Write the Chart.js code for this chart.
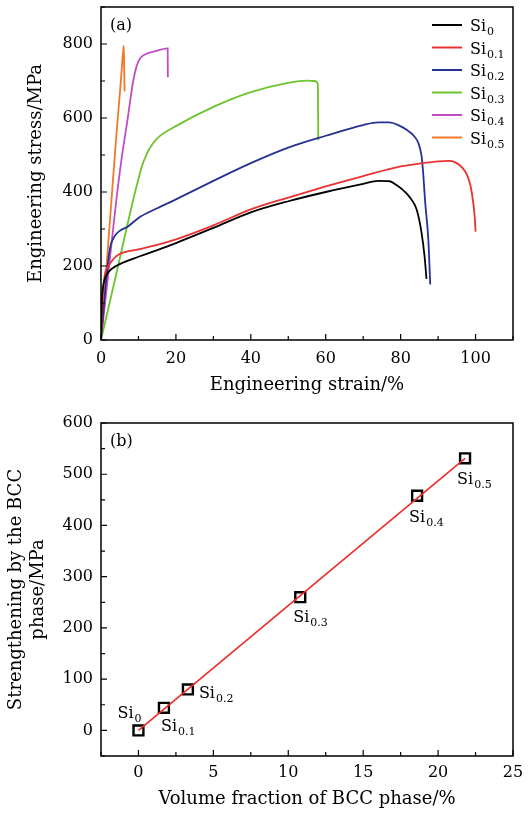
<!DOCTYPE html>
<html>
<head>
<meta charset="utf-8">
<script src="https://cdn.jsdelivr.net/npm/chart.js@4.4.0/dist/chart.umd.min.js"></script>
<style>
  body { margin: 0; background: #fff; }
  canvas { display: block; }
</style>
</head>
<body>
<canvas id="stress-chart" width="528" height="400"></canvas>
<canvas id="bcc-chart" width="528" height="414"></canvas>
<script>
const SERIES_SUBS = ['0', '0.1', '0.2', '0.3', '0.4', '0.5'];
const SERIES_COLORS = ['#000000', '#ea3232', '#27318f', '#6cc42f', '#c24cc2', '#f07a26'];

// (a) engineering stress-strain curves
const si0Strain = [0, 0.2, 0.5, 1, 2, 2.6, 4, 6, 10, 15, 20, 30, 40, 50, 60, 70, 74, 77, 79, 81.5, 83, 84.3, 85.6, 86.4, 86.9];
const si0Stress = [0, 100, 140, 165, 183, 190, 200, 210, 225, 243, 262, 303, 345, 375, 400, 422, 430, 429, 418, 397, 378, 352, 289, 225, 165];
const si01Strain = [0, 0.5, 1, 2, 3, 4.5, 10, 15, 20, 30, 40, 50, 60, 70, 80, 86, 90, 93, 95, 96.5, 97.7, 98.7, 99.4, 99.8, 100];
const si01Stress = [0, 120, 175, 200, 215, 230, 245, 257, 272, 310, 353, 385, 415, 443, 469, 478, 483, 484, 478, 465, 447, 415, 370, 330, 293];
const si02Strain = [0, 1, 2.3, 3.6, 5, 7.2, 10, 15, 20, 30, 40, 50, 60, 70, 74, 77, 79.5, 81.6, 83.5, 84.7, 85.6, 86.1, 86.5, 87.4, 87.9];
const si02Stress = [0, 120, 243, 280, 295, 307, 330, 356, 380, 430, 478, 520, 552, 581, 588, 588, 580, 568, 552, 533, 496, 440, 379, 270, 150];
const si03Strain = [0, 4, 8.6, 10, 11, 12, 13, 15, 20, 30, 40, 50, 55, 57, 57.9, 58];
const si03Stress = [0, 175, 379, 435, 472, 498, 518, 545, 578, 630, 670, 695, 701, 700, 692, 540];
const si04Strain = [0, 2, 4.1, 5.5, 7, 8.6, 9.5, 10.5, 12, 15, 17.8, 17.85];
const si04Stress = [0, 185, 379, 490, 590, 700, 740, 762, 773, 782, 788, 710];
const si05Strain = [0, 1.4, 2.8, 4, 5.3, 5.9, 6.1, 6.2, 6.3];
const si05Stress = [0, 190, 379, 540, 700, 780, 795, 720, 672];

// (b) strengthening by the BCC phase
const bccFraction = [0, 1.7, 3.3, 10.8, 18.6, 21.8];
const bccStrengthening = [0, 44, 80, 260, 458, 531];
const fitFraction = [0, 21.8];
const fitStrengthening = [0, 531];

const FONT = '"DejaVu Serif", serif';
const LABEL_OFFSETS = [[-21, -12], [-3, 23], [11, 9], [-7, 25], [-8, 26], [-8, 26]];

function toPoints(xs, ys) {
  return xs.map((x, i) => ({ x: x, y: ys[i] }));
}

function drawSi(ctx, x, y, sub) {
  ctx.fillStyle = '#000';
  ctx.textAlign = 'left';
  ctx.textBaseline = 'alphabetic';
  ctx.font = '16px ' + FONT;
  ctx.fillText('Si', x, y);
  const w = ctx.measureText('Si').width;
  ctx.font = '11px ' + FONT;
  ctx.fillText(sub, x + w + 1, y + 4);
}

// frame with inward major/minor ticks on left and bottom
const framePlugin = {
  id: 'frame',
  afterDraw(chart, args, opts) {
    const ctx = chart.ctx;
    const { left, top, right, bottom } = chart.chartArea;
    const xs = chart.scales.x;
    const ys = chart.scales.y;
    ctx.save();
    ctx.strokeStyle = '#000';
    ctx.lineWidth = 1.5;
    ctx.strokeRect(left, top, right - left, bottom - top);
    ctx.lineWidth = 1.2;
    ctx.beginPath();
    for (let v = Math.ceil(xs.min / opts.xMinor) * opts.xMinor; v <= xs.max + 1e-9; v += opts.xMinor) {
      const px = xs.getPixelForValue(v);
      const len = Math.abs(v / opts.xMajor - Math.round(v / opts.xMajor)) < 1e-6 ? 6 : 4;
      ctx.moveTo(px, bottom);
      ctx.lineTo(px, bottom - len);
    }
    for (let v = Math.ceil(ys.min / opts.yMinor) * opts.yMinor; v <= ys.max + 1e-9; v += opts.yMinor) {
      const py = ys.getPixelForValue(v);
      const len = Math.abs(v / opts.yMajor - Math.round(v / opts.yMajor)) < 1e-6 ? 6 : 4;
      ctx.moveTo(left, py);
      ctx.lineTo(left + len, py);
    }
    ctx.stroke();
    ctx.fillStyle = '#000';
    ctx.font = '16px ' + FONT;
    ctx.textAlign = 'left';
    ctx.textBaseline = 'middle';
    ctx.fillText(opts.panel, left + 9, top + 19);
    ctx.restore();
  }
};

const legendPlugin = {
  id: 'siLegend',
  afterDraw(chart) {
    const ctx = chart.ctx;
    const { right, top } = chart.chartArea;
    ctx.save();
    chart.data.datasets.forEach((ds, i) => {
      const y = top + 18 + i * 22.5;
      ctx.strokeStyle = ds.borderColor;
      ctx.lineWidth = 2;
      ctx.beginPath();
      ctx.moveTo(right - 81, y);
      ctx.lineTo(right - 51, y);
      ctx.stroke();
      drawSi(ctx, right - 43, y + 6, SERIES_SUBS[i]);
    });
    ctx.restore();
  }
};

const pointLabelPlugin = {
  id: 'pointLabels',
  afterDraw(chart) {
    const ctx = chart.ctx;
    const meta = chart.getDatasetMeta(1);
    ctx.save();
    meta.data.forEach((pt, i) => {
      drawSi(ctx, pt.x + LABEL_OFFSETS[i][0], pt.y + LABEL_OFFSETS[i][1], SERIES_SUBS[i]);
    });
    ctx.restore();
  }
};

function axis(opts) {
  return {
    type: 'linear',
    min: opts.min,
    max: opts.max,
    grid: { display: false, drawTicks: false },
    border: { display: false },
    ticks: { autoSkip: false, maxRotation: 0, padding: opts.padding, color: '#000', font: { family: FONT, size: 16 } },
    title: { display: true, text: opts.title, color: '#000', font: { family: FONT, size: 18 }, padding: opts.titlePadding },
    afterBuildTicks: (scale) => {
      const ticks = [];
      for (let v = Math.ceil(opts.min / opts.step - 1e-9) * opts.step; v <= opts.max + 1e-9; v += opts.step) {
        ticks.push({ value: v });
      }
      scale.ticks = ticks;
    },
    afterFit: (scale) => {
      if (opts.width) scale.width = opts.width;
      if (opts.height) scale.height = opts.height;
      scale.paddingTop = 0;
      scale.paddingBottom = 0;
      scale.paddingLeft = 0;
      scale.paddingRight = 0;
    },
  };
}

const stressSeries = [
  [si0Strain, si0Stress], [si01Strain, si01Stress], [si02Strain, si02Stress],
  [si03Strain, si03Stress], [si04Strain, si04Stress], [si05Strain, si05Stress],
];

new Chart(document.getElementById('stress-chart'), {
  type: 'scatter',
  data: {
    datasets: stressSeries.map((s, i) => ({
      label: 'Si' + SERIES_SUBS[i],
      data: toPoints(s[0], s[1]),
      showLine: true,
      borderColor: SERIES_COLORS[i],
      borderWidth: 1.8,
      pointRadius: 0,
      cubicInterpolationMode: 'monotone',
      order: i,
    })),
  },
  options: {
    responsive: false,
    animation: false,
    layout: { padding: { top: 7, right: 15, left: 0, bottom: 0 } },
    plugins: {
      legend: { display: false },
      tooltip: { enabled: false },
      frame: { xMajor: 20, xMinor: 10, yMajor: 200, yMinor: 100, panel: '(a)' },
    },
    scales: {
      x: axis({ min: 0, max: 110, step: 20, padding: 9, title: 'Engineering strain/%', height: 60, titlePadding: { top: 4, bottom: 4 } }),
      y: axis({ min: 0, max: 900, step: 200, padding: 8, title: 'Engineering stress/MPa', width: 101, titlePadding: { top: 26, bottom: 4 } }),
    },
  },
  plugins: [framePlugin, legendPlugin],
});

new Chart(document.getElementById('bcc-chart'), {
  type: 'scatter',
  data: {
    datasets: [
      {
        label: 'Linear fit',
        data: toPoints(fitFraction, fitStrengthening),
        showLine: true,
        borderColor: '#ee2a2a',
        borderWidth: 1.6,
        pointRadius: 0,
        order: 0,
      },
      {
        label: 'BCC strengthening',
        data: toPoints(bccFraction, bccStrengthening),
        pointStyle: 'rect',
        pointRadius: 7,
        borderColor: '#000',
        borderWidth: 2.4,
        backgroundColor: 'rgba(255,255,255,0)',
        order: 1,
      },
    ],
  },
  options: {
    responsive: false,
    animation: false,
    layout: { padding: { top: 23, right: 15, left: 0, bottom: 0 } },
    plugins: {
      legend: { display: false },
      tooltip: { enabled: false },
      frame: { xMajor: 5, xMinor: 2.5, yMajor: 100, yMinor: 50, panel: '(b)' },
    },
    scales: {
      x: axis({ min: -2.5, max: 25, step: 5, padding: 7, title: 'Volume fraction of BCC phase/%', height: 58, titlePadding: { top: 4, bottom: 4 } }),
      y: axis({ min: -50, max: 600, step: 100, padding: 8, title: ['Strengthening by the BCC', 'phase/MPa'], width: 101, titlePadding: { top: 6, bottom: 4 } }),
    },
  },
  plugins: [framePlugin, pointLabelPlugin],
});
</script>
</body>
</html>
